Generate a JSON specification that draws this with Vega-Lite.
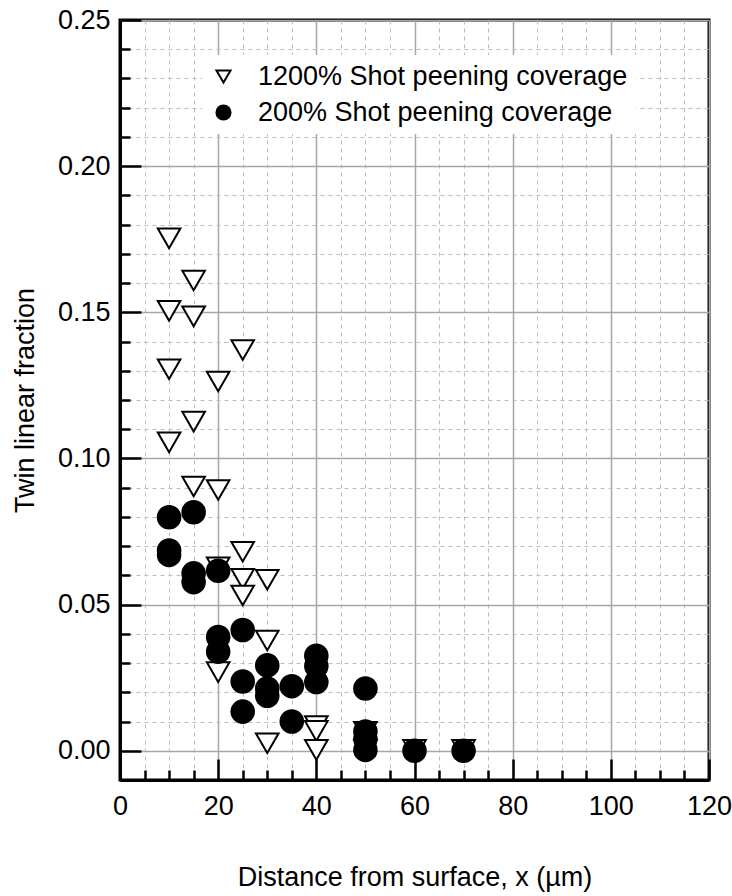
{
  "$schema": "https://vega.github.io/schema/vega-lite/v6.json",
  "width": 589,
  "height": 760,
  "autosize": {"type": "none"},
  "padding": {"left": 120, "top": 20, "right": 23, "bottom": 116},
  "background": "white",
  "config": {
    "font": "Liberation Sans",
    "view": {"stroke": "black", "strokeWidth": 3},
    "axis": {"labelFont": "Liberation Sans", "titleFont": "Liberation Sans", "labelColor": "black", "titleColor": "black", "titleFontWeight": "normal"},
    "legend": {
      "orient": "none",
      "legendX": 82,
      "legendY": 35,
      "fillColor": "white",
      "padding": 8,
      "symbolSize": 200,
      "symbolStrokeWidth": 2,
      "labelFontSize": 27,
      "labelFont": "Liberation Sans",
      "labelColor": "black",
      "labelOffset": 21,
      "rowPadding": 8,
      "labelLimit": 500
    }
  },
  "data": {
    "values": [
      {"x": 10, "y": 0.1753, "series": "1200% Shot peening coverage"},
      {"x": 15, "y": 0.1609, "series": "1200% Shot peening coverage"},
      {"x": 10, "y": 0.1505, "series": "1200% Shot peening coverage"},
      {"x": 15, "y": 0.1486, "series": "1200% Shot peening coverage"},
      {"x": 25, "y": 0.1371, "series": "1200% Shot peening coverage"},
      {"x": 10, "y": 0.1305, "series": "1200% Shot peening coverage"},
      {"x": 20, "y": 0.1263, "series": "1200% Shot peening coverage"},
      {"x": 15, "y": 0.1126, "series": "1200% Shot peening coverage"},
      {"x": 10, "y": 0.1055, "series": "1200% Shot peening coverage"},
      {"x": 15, "y": 0.0904, "series": "1200% Shot peening coverage"},
      {"x": 20, "y": 0.0892, "series": "1200% Shot peening coverage"},
      {"x": 20, "y": 0.0628, "series": "1200% Shot peening coverage"},
      {"x": 25, "y": 0.0681, "series": "1200% Shot peening coverage"},
      {"x": 25, "y": 0.0588, "series": "1200% Shot peening coverage"},
      {"x": 25, "y": 0.0531, "series": "1200% Shot peening coverage"},
      {"x": 30, "y": 0.0585, "series": "1200% Shot peening coverage"},
      {"x": 20, "y": 0.0269, "series": "1200% Shot peening coverage"},
      {"x": 30, "y": 0.0377, "series": "1200% Shot peening coverage"},
      {"x": 30, "y": 0.0026, "series": "1200% Shot peening coverage"},
      {"x": 40, "y": 0.0085, "series": "1200% Shot peening coverage"},
      {"x": 40, "y": 0.0068, "series": "1200% Shot peening coverage"},
      {"x": 40, "y": 0.0003, "series": "1200% Shot peening coverage"},
      {"x": 50, "y": 0.0065, "series": "1200% Shot peening coverage"},
      {"x": 50, "y": 0.0003, "series": "1200% Shot peening coverage"},
      {"x": 60, "y": 0.0003, "series": "1200% Shot peening coverage"},
      {"x": 70, "y": 0.0003, "series": "1200% Shot peening coverage"},
      {"x": 10, "y": 0.0799, "series": "200% Shot peening coverage"},
      {"x": 15, "y": 0.0816, "series": "200% Shot peening coverage"},
      {"x": 10, "y": 0.0685, "series": "200% Shot peening coverage"},
      {"x": 10, "y": 0.0670, "series": "200% Shot peening coverage"},
      {"x": 15, "y": 0.0607, "series": "200% Shot peening coverage"},
      {"x": 15, "y": 0.0577, "series": "200% Shot peening coverage"},
      {"x": 20, "y": 0.0616, "series": "200% Shot peening coverage"},
      {"x": 25, "y": 0.0413, "series": "200% Shot peening coverage"},
      {"x": 20, "y": 0.0389, "series": "200% Shot peening coverage"},
      {"x": 20, "y": 0.0339, "series": "200% Shot peening coverage"},
      {"x": 30, "y": 0.0292, "series": "200% Shot peening coverage"},
      {"x": 25, "y": 0.0237, "series": "200% Shot peening coverage"},
      {"x": 30, "y": 0.0213, "series": "200% Shot peening coverage"},
      {"x": 30, "y": 0.0188, "series": "200% Shot peening coverage"},
      {"x": 35, "y": 0.0221, "series": "200% Shot peening coverage"},
      {"x": 25, "y": 0.0134, "series": "200% Shot peening coverage"},
      {"x": 35, "y": 0.0100, "series": "200% Shot peening coverage"},
      {"x": 40, "y": 0.0325, "series": "200% Shot peening coverage"},
      {"x": 40, "y": 0.0290, "series": "200% Shot peening coverage"},
      {"x": 40, "y": 0.0235, "series": "200% Shot peening coverage"},
      {"x": 50, "y": 0.0213, "series": "200% Shot peening coverage"},
      {"x": 50, "y": 0.0066, "series": "200% Shot peening coverage"},
      {"x": 50, "y": 0.0040, "series": "200% Shot peening coverage"},
      {"x": 50, "y": 0.0003, "series": "200% Shot peening coverage"},
      {"x": 60, "y": 0.0000, "series": "200% Shot peening coverage"},
      {"x": 70, "y": 0.0000, "series": "200% Shot peening coverage"}
    ]
  },
  "layer": [
    {
      "mark": {"type": "point", "opacity": 0},
      "encoding": {
        "x": {
          "field": "x", "type": "quantitative",
          "scale": {"domain": [0, 120], "nice": false, "zero": false},
          "axis": {
            "orient": "bottom",
            "values": [5, 10, 15, 25, 30, 35, 45, 50, 55, 65, 70, 75, 85, 90, 95, 105, 110, 115],
            "labels": false, "domain": false, "title": null,
            "ticks": true, "tickSize": -10, "tickWidth": 2.5, "tickColor": "black",
            "grid": true, "gridColor": "#bdbdbd", "gridDash": [4, 4], "gridWidth": 1
          }
        },
        "y": {
          "field": "y", "type": "quantitative",
          "scale": {"domain": [-0.01, 0.25], "nice": false, "zero": false},
          "axis": {
            "orient": "left",
            "values": [0.01, 0.02, 0.03, 0.04, 0.06, 0.07, 0.08, 0.09, 0.11, 0.12, 0.13, 0.14, 0.16, 0.17, 0.18, 0.19, 0.21, 0.22, 0.23, 0.24],
            "labels": false, "domain": false, "title": null,
            "ticks": true, "tickSize": -10, "tickWidth": 2.5, "tickColor": "black",
            "grid": true, "gridColor": "#bdbdbd", "gridDash": [4, 4], "gridWidth": 1
          }
        }
      }
    },
    {
      "mark": {"type": "point", "filled": false, "size": 510, "strokeWidth": 2, "opacity": 1},
      "encoding": {
        "x": {
          "field": "x", "type": "quantitative",
          "scale": {"domain": [0, 120], "nice": false, "zero": false},
          "axis": {
            "orient": "bottom",
            "values": [0, 20, 40, 60, 80, 100, 120],
            "title": "Distance from surface, x (µm)",
            "titleFontSize": 27, "titlePadding": 45,
            "labelFontSize": 27, "labelPadding": 34, "labelFlush": false,
            "domain": true, "domainColor": "black", "domainWidth": 3,
            "ticks": true, "tickSize": -21, "tickWidth": 2.5, "tickColor": "black",
            "grid": true, "gridColor": "#a6a6a6", "gridWidth": 1.5
          }
        },
        "y": {
          "field": "y", "type": "quantitative",
          "scale": {"domain": [-0.01, 0.25], "nice": false, "zero": false},
          "axis": {
            "orient": "left",
            "values": [0, 0.05, 0.1, 0.15, 0.2, 0.25],
            "format": ".2f",
            "title": "Twin linear fraction",
            "titleFontSize": 27, "titlePadding": 18,
            "labelFontSize": 27, "labelPadding": 31, "labelFlush": false,
            "domain": true, "domainColor": "black", "domainWidth": 3,
            "ticks": true, "tickSize": -21, "tickWidth": 2.5, "tickColor": "black",
            "grid": true, "gridColor": "#a6a6a6", "gridWidth": 1.5
          }
        },
        "shape": {
          "field": "series", "type": "nominal",
          "scale": {"domain": ["1200% Shot peening coverage", "200% Shot peening coverage"], "range": ["triangle-down", "circle"]},
          "legend": {"title": null}
        },
        "fill": {
          "field": "series", "type": "nominal",
          "scale": {"domain": ["1200% Shot peening coverage", "200% Shot peening coverage"], "range": ["white", "black"]},
          "legend": {"title": null}
        },
        "stroke": {
          "field": "series", "type": "nominal",
          "scale": {"domain": ["1200% Shot peening coverage", "200% Shot peening coverage"], "range": ["black", "black"]},
          "legend": {"title": null}
        }
      }
    }
  ],
  "resolve": {"axis": {"x": "independent", "y": "independent"}}
}
